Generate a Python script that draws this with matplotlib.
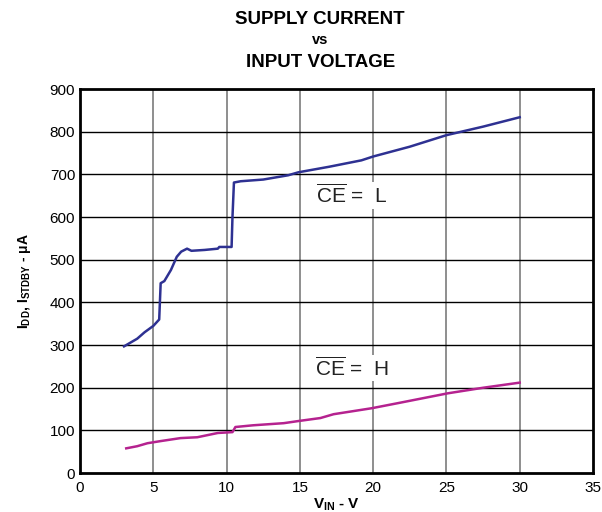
import numpy as np
import matplotlib.pyplot as plt

plt.rcParams["font.family"] = ["Liberation Sans", "DejaVu Sans"]
plt.rcParams["mathtext.fontset"] = "custom"
plt.rcParams["mathtext.rm"] = "Liberation Sans"
plt.rcParams["mathtext.it"] = "Liberation Sans:italic"
plt.rcParams["mathtext.bf"] = "Liberation Sans:bold"

# CE = L (supply current)
vin_l = [3.0, 3.9, 4.4, 5.0, 5.4, 5.5, 5.75, 6.2, 6.6, 6.9, 7.3, 7.6, 8.5, 9.4, 9.5,
         10.34, 10.4, 10.5, 10.96, 12.5, 14.2, 14.9, 17.0, 19.2, 20.0, 22.5, 25.0,
         27.5, 30.0]
idd_l = [297, 315, 330, 345, 360, 445, 450, 476, 507, 519, 526, 521, 523, 526, 530,
         530, 600, 681, 684, 688, 698, 705, 718, 733, 742, 765, 792, 812, 834]

# CE = H (standby current)
vin_h = [3.15, 3.9, 4.6, 5.5, 6.85, 8.0, 9.4, 10.4, 10.6, 11.8, 13.9, 14.9, 16.4,
         17.3, 19.9, 21.7, 25.1, 27.5, 30.0]
idd_h = [58, 63, 70, 75, 82, 84, 94, 96, 108, 112, 117, 122, 129, 138, 152, 164,
         187, 200, 212]

fig = plt.figure(figsize=(6.02, 5.12), dpi=100)
ax = fig.add_axes([0.133, 0.076, 0.852, 0.75])

ax.plot(vin_l, idd_l, color="#2E3192", lw=1.8, zorder=3)
ax.plot(vin_h, idd_h, color="#B5228F", lw=1.8, zorder=3)

ax.set_xlim(0, 35)
ax.set_ylim(0, 900)
ax.set_xticks(np.arange(0, 36, 5))
ax.set_yticks(np.arange(0, 901, 100))
ax.tick_params(length=0, labelsize=11)
ax.tick_params(axis="x", pad=6)
for x in range(5, 35, 5):
    ax.axvline(x, color="#707070", lw=1.1, zorder=1)
for y in range(100, 900, 100):
    ax.axhline(y, color="black", lw=1.0, zorder=1)
for s in ax.spines.values():
    s.set_linewidth(2.0)

ax.text(16.1, 651, r"$\overline{\mathrm{CE}}$ =  L", fontsize=15, va="center",
        color="#222222", bbox=dict(facecolor="white", edgecolor="none", pad=1), zorder=2)
ax.text(16.0, 246, r"$\overline{\mathrm{CE}}$ =  H", fontsize=15, va="center",
        color="#222222", bbox=dict(facecolor="white", edgecolor="none", pad=1), zorder=2)

ax.set_xlabel(r"V$_{\mathbf{IN}}$ - V", fontsize=11, fontweight="bold", labelpad=1)
ax.set_ylabel(r"I$_{\mathbf{DD}}$, I$_{\mathbf{STDBY}}$ - μA", fontsize=10,
              fontweight="bold", labelpad=12)

fig.text(0.532, 0.962, "SUPPLY CURRENT", ha="center", va="center",
         fontsize=13.5, fontweight="bold")
fig.text(0.532, 0.921, "vs", ha="center", va="center", fontsize=10.5, fontweight="bold")
fig.text(0.532, 0.878, "INPUT VOLTAGE", ha="center", va="center",
         fontsize=13.5, fontweight="bold")

fig.savefig("out.png", dpi=100)
